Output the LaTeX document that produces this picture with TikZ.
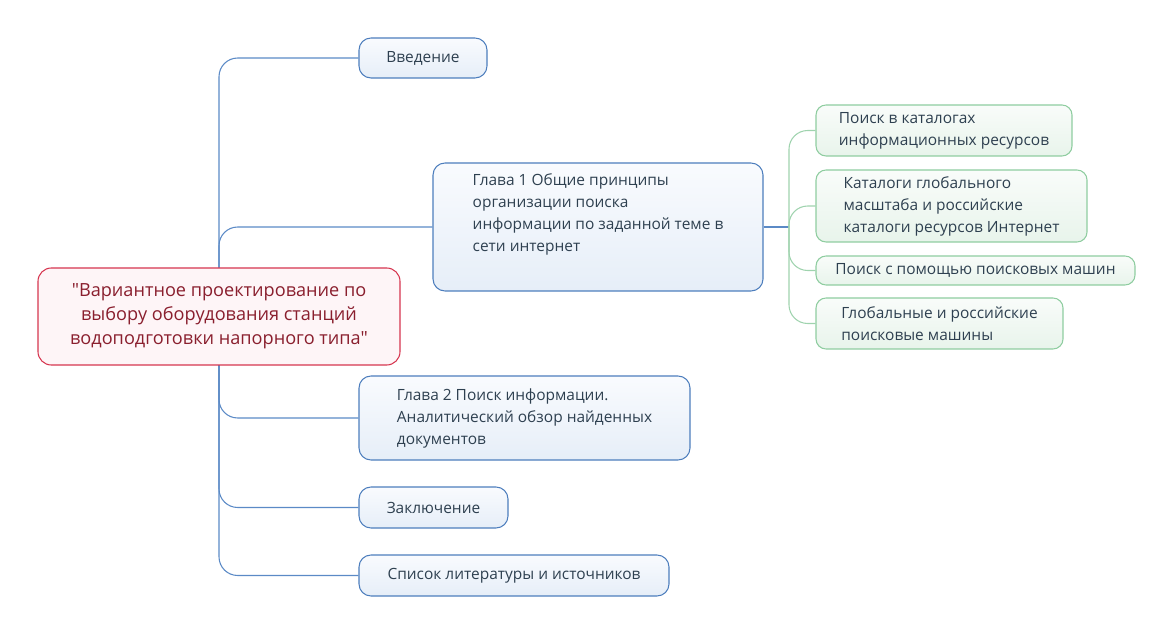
\documentclass[tikz,border=0pt]{standalone}
\usepackage{fontspec}
\setmainfont{Open Sans}[Ligatures=TeXOff]
\usetikzlibrary{backgrounds}
\definecolor{bluebd}{HTML}{4D7EBD}
\definecolor{bluetop}{HTML}{F9FBFE}
\definecolor{bluebot}{HTML}{E6EEF8}
\definecolor{blueln}{HTML}{5B8AC6}
\definecolor{greenbd}{HTML}{8FCDA0}
\definecolor{greentop}{HTML}{F9FCFA}
\definecolor{greenbot}{HTML}{E8F4EB}
\definecolor{greenln}{HTML}{9FD3AE}
\definecolor{rootbd}{HTML}{D6354F}
\definecolor{rootfill}{HTML}{FEF5F7}
\definecolor{roottxt}{HTML}{8A1F2E}
\definecolor{txt}{HTML}{2E4050}
\tikzset{
  basebox/.style={rectangle, inner sep=0pt, line width=0.8pt, align=left, text=txt,
    font=\fontsize{11.6pt}{16.5pt}\selectfont},
  bluebox/.style={basebox, draw=bluebd, top color=bluetop, bottom color=bluebot, rounded corners=9pt},
  greenbox/.style={basebox, draw=greenbd, top color=greentop, bottom color=greenbot, rounded corners=7.5pt},
  rootbox/.style={rectangle, inner sep=0pt, line width=0.8pt, align=center, text=roottxt,
    draw=rootbd, fill=rootfill, rounded corners=10pt, font=\fontsize{13.6pt}{18pt}\selectfont},
  blueconn/.style={draw=blueln, line width=0.8pt, rounded corners=14pt},
  greenconn/.style={draw=greenln, line width=0.8pt, rounded corners=14pt}
}
\begin{document}
\begin{tikzpicture}[x=0.75pt,y=-0.75pt]
\useasboundingbox (0,0) rectangle (1174,634);

\node[rootbox, minimum width=271.5pt, minimum height=72.75pt] (root) at (219,316.5)
  {"Вариантное проектирование по\\выбору оборудования станций\\водоподготовки напорного типа"};

\node[bluebox, minimum width=96pt, minimum height=30pt] (intro) at (423,58) {Введение};
\node[bluebox, minimum width=247.5pt, minimum height=96pt] (ch1) at (598,227)
  {Глава 1 Общие принципы\\организации поиска\\информации по заданной теме в\\сети интернет\\\strut};
\node[bluebox, minimum width=248.25pt, minimum height=63pt] (ch2) at (524.5,418)
  {Глава 2 Поиск информации.\\Аналитический обзор найденных\\документов};
\node[bluebox, minimum width=111.75pt, minimum height=30.75pt] (concl) at (433.5,507.5) {Заключение};
\node[bluebox, minimum width=232.5pt, minimum height=30.75pt] (lit) at (514,575.5) {Список литературы и источников};

\node[greenbox, minimum width=192pt, minimum height=38.25pt] (g1) at (944,130.5)
  {Поиск в каталогах\\информационных ресурсов};
\node[greenbox, minimum width=203.25pt, minimum height=54pt] (g2) at (951.5,206)
  {Каталоги глобального\\масштаба и российские\\каталоги ресурсов Интернет};
\node[greenbox, minimum width=239.25pt, minimum height=21.75pt] (g3) at (975.5,270.5)
  {Поиск с помощью поисковых машин};
\node[greenbox, minimum width=185.25pt, minimum height=38.25pt] (g4) at (939.5,323.5)
  {Глобальные и российские\\поисковые машины};

\coordinate (j) at (789,227);

\begin{scope}[on background layer]
  \draw[blueconn] (root.center) |- (intro.west);
  \draw[blueconn] (root.center) |- (ch1.west);
  \draw[blueconn] (root.center) |- (ch2.west);
  \draw[blueconn] (root.center) |- (concl.west);
  \draw[blueconn] (root.center) |- (lit.west);
  \draw[blueconn] (ch1.east) -- (j);
  \draw[greenconn] (j) |- (g1.west);
  \draw[greenconn] (j) |- (g2.west);
  \draw[greenconn] (j) |- (g3.west);
  \draw[greenconn] (j) |- (g4.west);
\end{scope}
\end{tikzpicture}
\end{document}
